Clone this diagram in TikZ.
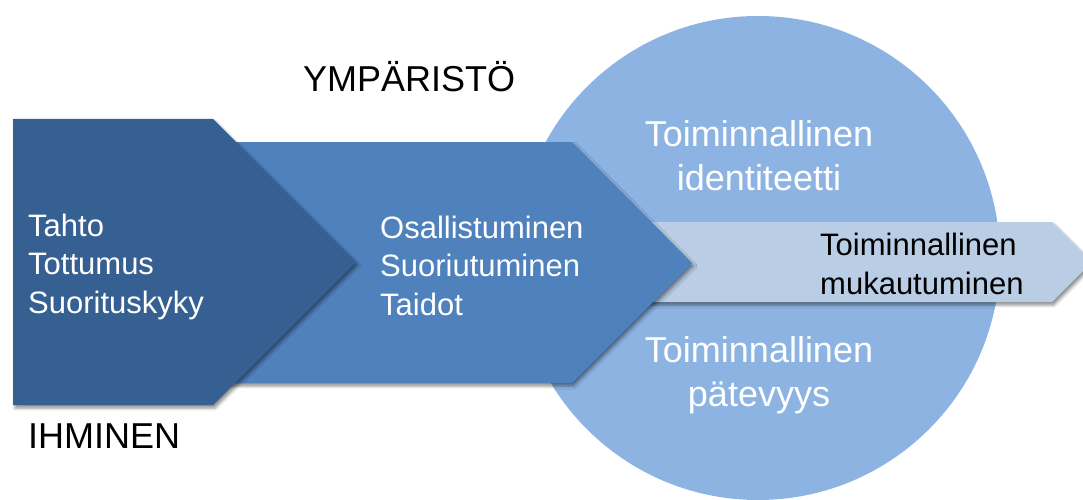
\documentclass[tikz,border=0pt]{standalone}
\usepackage{fontspec}
\setmainfont{Liberation Sans}
\usetikzlibrary{shadows.blur}
\definecolor{deepblue}{HTML}{366092}
\definecolor{midblue}{HTML}{4F81BD}
\definecolor{ringblue}{HTML}{8DB3E2}
\definecolor{paleblue}{HTML}{B9CDE5}

\begin{document}
\begin{tikzpicture}[x=1pt,y=-1pt,
  softshadow/.style={blur shadow={shadow xshift=2pt,shadow yshift=-3pt,
    shadow blur radius=3pt,shadow opacity=45}},
  bigtext/.style={font=\fontsize{36}{44}\selectfont,inner sep=0pt},
  midtext/.style={font=\fontsize{31}{38.5}\selectfont,inner sep=0pt},
  listtext/.style={midtext,text=white,align=left,anchor=base west},
  ringtext/.style={font=\fontsize{36}{43.5}\selectfont,inner sep=0pt,
    text=white,align=center,anchor=base}]
\useasboundingbox (0,0) rectangle (1083,500);

% surrounding circle
\fill[ringblue] (758,258) circle[radius=242];

% outcome arrow
\fill[paleblue,softshadow] (600,222) -- (1052,222) -- (1092,262)
  -- (1052,302) -- (600,302) -- cycle;

% second chevron
\fill[midblue,softshadow] (150,142) -- (572,142) -- (692,263)
  -- (572,383) -- (150,383) -- cycle;

% first chevron
\fill[deepblue,softshadow] (13,119) -- (213,119) -- (356,262)
  -- (213,405) -- (13,405) -- cycle;

% labels (multi-line nodes are anchored at the baseline of their last line)
\node[bigtext,anchor=base west] (env) at (303,92) {YMPÄRISTÖ};
\node[bigtext,anchor=base west] (person) at (28,448) {IHMINEN};

\node[listtext] (inner) at (28,313) {Tahto\\Tottumus\\Suorituskyky};
\node[listtext] (doing) at (380,315) {Osallistuminen\\Suoriutuminen\\Taidot};

\node[ringtext] (identity) at (759,190) {Toiminnallinen\\identiteetti};
\node[ringtext] (competence) at (759,406) {Toiminnallinen\\pätevyys};

\node[midtext,align=left,anchor=base west] (adapt) at (820,294)
  {Toiminnallinen\\mukautuminen};
\end{tikzpicture}
\end{document}
